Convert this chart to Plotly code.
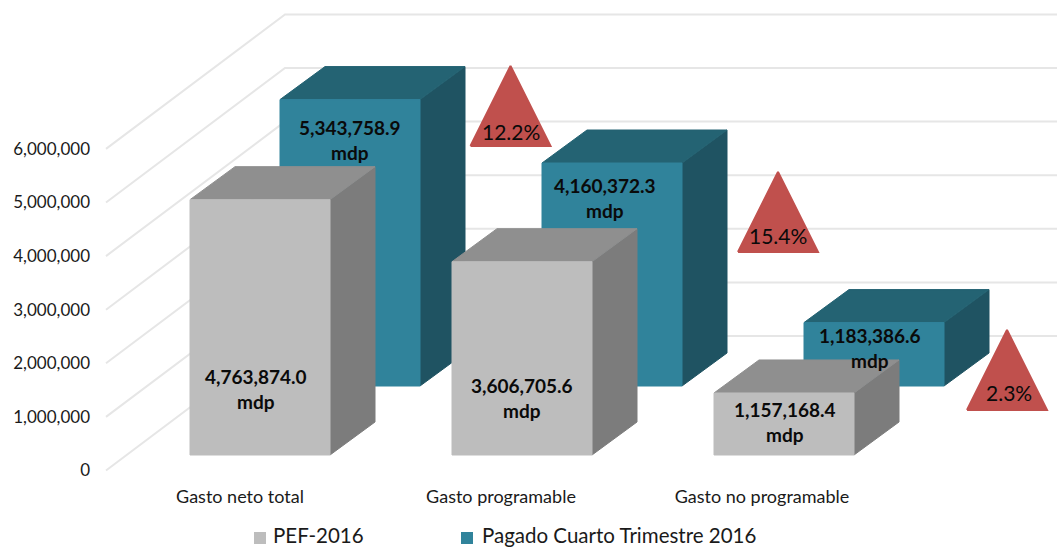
import plotly.graph_objects as go

# ---- data ----
categories = ["Gasto neto total", "Gasto programable", "Gasto no programable"]
pef_2016 = [4763874.0, 3606705.6, 1157168.4]
pagado_q4 = [5343758.9, 4160372.3, 1183386.6]
variacion = ["12.2%", "15.4%", "2.3%"]
y_ticks = [0, 1000000, 2000000, 3000000, 4000000, 5000000, 6000000]
series_names = ["PEF-2016", "Pagado Cuarto Trimestre 2016"]

# ---- layout geometry (pixels of the page) ----
W, H = 1057, 548
PLOT_L, AXIS_B = 100, 478
ZERO_PX, PX_PER_UNIT = 470.5, 53.6e-6
def v(px):
    return (ZERO_PX - px) / PX_PER_UNIT
DU = 1 / PX_PER_UNIT

BAR_W, DX, DY = 140, 45, 33 * DU
GREY_X = [190, 452, 714]
BLUE_X = [280, 542, 804]
GREY_BASE = v(455)
BLUE_BASE = v(386)
CAT_X = [240, 501, 762]
TRI_X = [510.5, 778, 1007]
TRI_BASE = [146, 252, 410]
TRI_LABEL = [(511, 131), (778, 235), (1009, 392)]
GREY_LABEL = [(256, 376), (522, 385), (785, 409)]
BLUE_LABEL = [(350, 127), (605, 185), (870, 335)]

GREY = ("#bdbdbd", "#8f8f8f", "#7c7c7c")
BLUE = ("#30839b", "#246373", "#1f5362")
RED = "#c0504d"
GRID = "#e6e6e6"
TXT = "#1a1a1a"
FONT = "Lato, Carlito, sans-serif"

fig = go.Figure()

# gridlines on wall and side, one per value tick
GRID_DEPTH = 134.5 * DU
for t in y_ticks:
    fig.add_trace(go.Scatter(x=[106, 285, W], y=[t, t + GRID_DEPTH, t + GRID_DEPTH],
                             mode="lines", line=dict(color=GRID, width=2),
                             hoverinfo="skip", showlegend=False))

def face(xs, ys, color):
    fig.add_trace(go.Scatter(x=xs, y=ys, mode="lines", fill="toself", fillcolor=color,
                             line=dict(color=color, width=1), hoverinfo="skip",
                             showlegend=False))

def bar(x0, base, value, colors):
    x1 = x0 + BAR_W
    top = base + value
    face([x1, x1 + DX, x1 + DX, x1, x1], [base, base + DY, top + DY, top, base], colors[2])
    face([x0, x0 + DX, x1 + DX, x1, x0], [top, top + DY, top + DY, top, top], colors[1])
    face([x0, x1, x1, x0, x0], [base, base, top, top, base], colors[0])

for i in range(3):
    bar(BLUE_X[i], BLUE_BASE, pagado_q4[i], BLUE)
    bar(GREY_X[i], GREY_BASE, pef_2016[i], GREY)

# triangles
for i in range(3):
    cx, b = TRI_X[i], TRI_BASE[i]
    fig.add_trace(go.Scatter(x=[cx - 40, cx, cx + 40, cx - 40],
                             y=[v(b), v(b - 80), v(b), v(b)],
                             mode="lines", fill="toself", fillcolor=RED,
                             line=dict(color=RED, width=2), hoverinfo="skip",
                             showlegend=False))

# legend keys and names
LEG_KEY_PX, LEG_TEXT_PX = 538, 534.5
for x, col, nm in [(260, GREY[0], series_names[0]), (467, BLUE[0], series_names[1])]:
    fig.add_trace(go.Scatter(x=[x], y=[v(LEG_KEY_PX)], mode="markers",
                             marker=dict(symbol="square", size=12, color=col),
                             name=nm, hoverinfo="skip", showlegend=False))

annotations = []
def note(x, py, text, size, bold=False, anchor="center", color="#0a0a0a"):
    annotations.append(dict(x=x, y=v(py), text=f"<b>{text}</b>" if bold else text,
                            showarrow=False, xanchor=anchor, yanchor="middle",
                            font=dict(family=FONT, size=size, color=color)))

for nm, tx in zip(series_names, [271, 480]):
    note(tx, LEG_TEXT_PX, nm, 20.5, anchor="left", color=TXT)

for vals, pos in [(pef_2016, GREY_LABEL), (pagado_q4, BLUE_LABEL)]:
    for val, (x, py) in zip(vals, pos):
        note(x, py, f"{val:,.1f}", 19, True)
        note(x, py + 25.5, "mdp", 19, True)
for txt, (x, py) in zip(variacion, TRI_LABEL):
    note(x, py, txt, 21)

fig.update_layout(
    width=W, height=H, autosize=False,
    margin=dict(l=PLOT_L, r=0, t=0, b=0, pad=0),
    paper_bgcolor="white", plot_bgcolor="white",
    showlegend=False, annotations=annotations,
    xaxis=dict(range=[PLOT_L, W], tickmode="array", tickvals=CAT_X, ticktext=categories,
               anchor="free", position=(H - AXIS_B) / H,
               showgrid=False, zeroline=False, showline=False, ticks="",
               ticklabelstandoff=6, tickfont=dict(family=FONT, size=18, color=TXT)),
    yaxis=dict(range=[v(H), v(0)], tickmode="array", tickvals=y_ticks,
               tickformat=",d", showgrid=False, zeroline=False, showline=False, ticks="",
               ticklabelstandoff=9, tickfont=dict(family=FONT, size=17, color=TXT)),
)

fig.write_html("out.html", config={"displayModeBar": False},
               post_script="document.body.style.margin='0';document.body.style.overflow='hidden';")
